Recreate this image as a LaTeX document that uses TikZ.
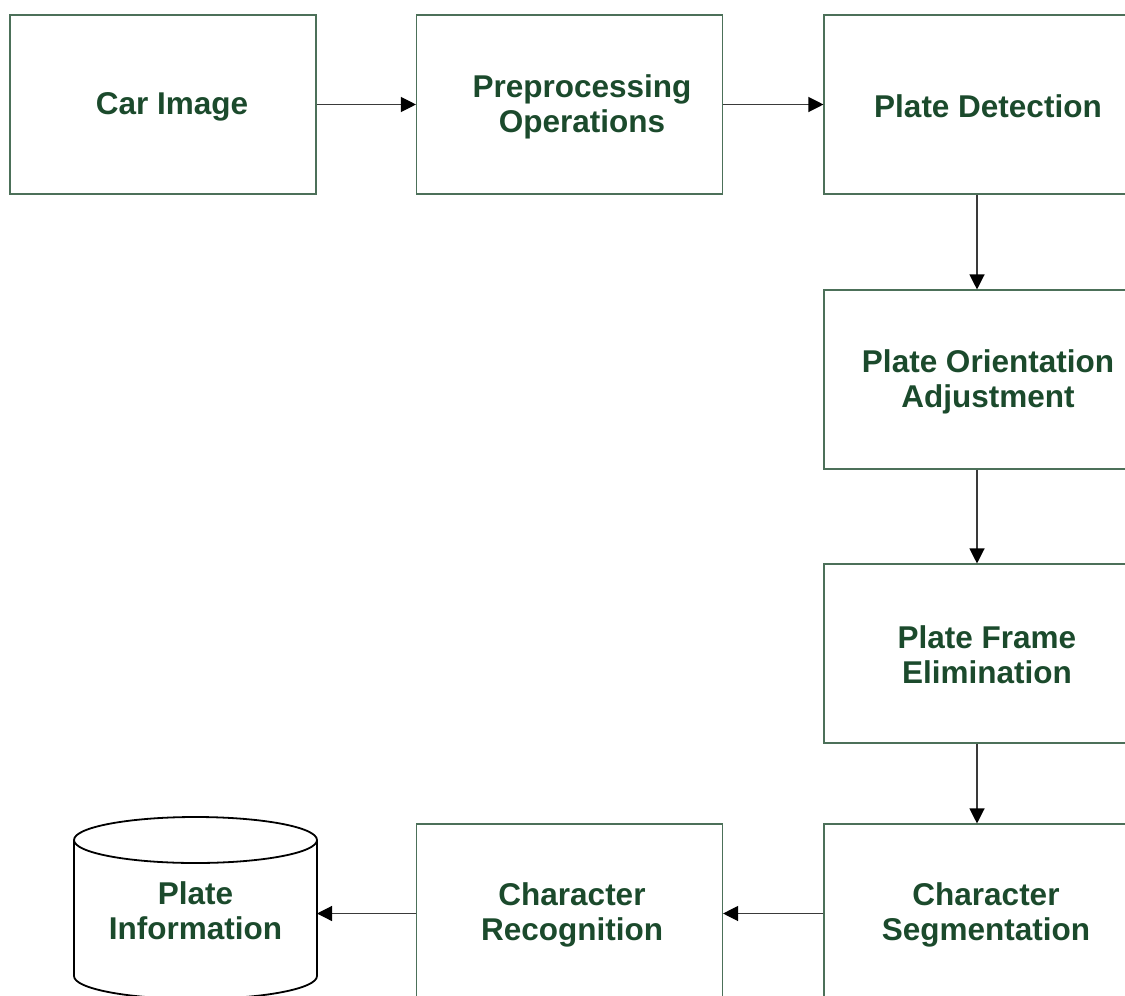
\documentclass[tikz,border=0pt]{standalone}
\usepackage{fontspec}
\setmainfont{Liberation Sans}
\usetikzlibrary{arrows.meta}
\definecolor{txtgreen}{HTML}{1B4A2C}
\definecolor{boxline}{HTML}{4C7059}
\definecolor{arrline}{HTML}{3A3A3A}
\begin{document}
\begin{tikzpicture}[x=1pt,y=-1pt,
  box/.style={draw=boxline,line width=1.1pt,rectangle,minimum width=306pt,minimum height=179pt,inner sep=0pt},
  lbl/.style={text=txtgreen,font=\fontsize{31.5}{35}\selectfont\bfseries,align=center,inner sep=0pt},
  arr/.style={draw=arrline,line width=1.2pt,-{Triangle[length=15pt,width=15pt,color=black]}}]
\path[use as bounding box] (0,0) rectangle (1125,996);
\clip (0,0) rectangle (1125,996);
% boxes
\node[box] (car) at (163,104.5) {};
\node[box] (pre) at (569.5,104.5) {};
\node[box] (det) at (977,104.5) {};
\node[box] (ori) at (977,379.5) {};
\node[box] (frm) at (977,653.5) {};
\node[box] (seg) at (977,913.5) {};
\node[box] (rec) at (569.5,913.5) {};
% labels
\node[lbl] (carT) at (172,107) {Car Image};
\node[lbl] (preT) at (582,107) {Preprocessing\\Operations};
\node[lbl] (detT) at (988,106) {Plate Detection};
\node[lbl] (oriT) at (988,381.5) {Plate Orientation\\Adjustment};
\node[lbl] (frmT) at (987,655) {Plate Frame\\Elimination};
\node[lbl] (segT) at (986,915) {Character\\Segmentation};
\node[lbl] (recT) at (572,915) {Character\\Recognition};
% cylinder
\draw[black,line width=1.8pt,fill=white] (74,840) -- (74,976) arc[start angle=180,end angle=0,x radius=121.5,y radius=23] -- (317,840);
\draw[black,line width=1.8pt,fill=white] (195.5,840) ellipse[x radius=121.5,y radius=23];
\coordinate (db) at (317,913.5);
\node[lbl] (dbT) at (195.5,911) {Plate\\Information};
% arrows
\draw[arr] (car.east) -- (pre.west);
\draw[arr] (pre.east) -- (det.west);
\draw[arr] (det.south) -- (ori.north);
\draw[arr] (ori.south) -- (frm.north);
\draw[arr] (frm.south) -- (seg.north);
\draw[arr] (seg.west) -- (rec.east);
\draw[arr] (rec.west) -- (db);
\end{tikzpicture}
\end{document}
